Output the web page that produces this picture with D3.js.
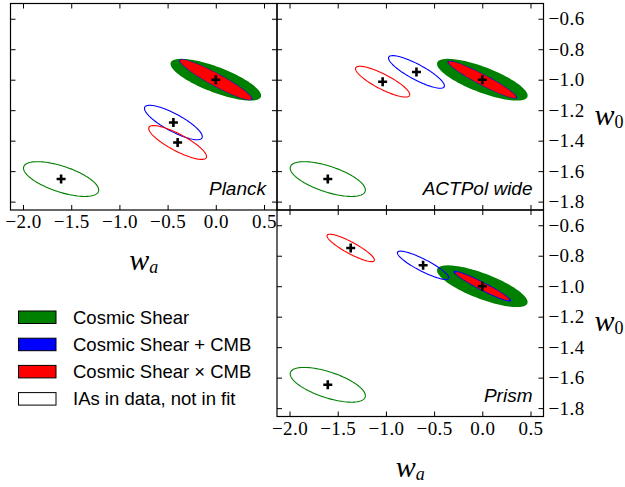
<!DOCTYPE html>
<html>
<head>
<meta charset="utf-8">
<script src="https://cdn.jsdelivr.net/npm/d3@7"></script>
<style>
  body { margin: 0; background: #fff; }
  .tick text { font-family: "Liberation Serif", serif; font-size: 19px; letter-spacing: 0.4px; fill: #000; }
  .tick line { stroke: #000; stroke-width: 1; }
</style>
</head>
<body>
<svg id="chart" width="625" height="487"></svg>
<script>
(function () {
  'use strict';

  // axes
  var waTicks = [-2.0, -1.5, -1.0, -0.5, 0.0, 0.5];
  var w0Ticks = [-1.8, -1.6, -1.4, -1.2, -1.0, -0.8, -0.6];
  var waRange = [-2.13, 0.635];
  var w0Range = [-1.855, -0.5];

  var experiments = ["Planck", "ACTPol wide", "Prism"];
  var probes = ["Cosmic Shear", "Cosmic Shear + CMB", "Cosmic Shear \u00d7 CMB", "IAs in data, not in fit"];
  var probeColors = ["#008000", "#0000ff", "#ff0000", "#ffffff"];

  var fiducial = [0.0, -1.0];

  // filled contours around the fiducial: experiment, probe index, sigma_wa, sigma_w0, rho
  var fitted = [
    ["Planck",      0, 0.470, 0.137, -0.76],
    ["Planck",      1, 0.380, 0.135, -0.935],
    ["Planck",      2, 0.371, 0.132, -0.94],
    ["ACTPol wide", 0, 0.470, 0.137, -0.76],
    ["ACTPol wide", 1, 0.362, 0.124, -0.945],
    ["ACTPol wide", 2, 0.350, 0.120, -0.95],
    ["Prism",       0, 0.470, 0.137, -0.76],
    ["Prism",       1, 0.300, 0.101, -0.95],
    ["Prism",       2, 0.278, 0.092, -0.96]
  ];

  // biased contours (IAs in data, not in fit): experiment, probe index, wa, w0, sigma_wa, sigma_w0, rho
  var biased = [
    ["Planck",      0, -1.605, -1.652, 0.390, 0.114, -0.63],
    ["Planck",      1, -0.440, -1.281, 0.300, 0.113, -0.82],
    ["Planck",      2, -0.396, -1.412, 0.300, 0.111, -0.83],
    ["ACTPol wide", 0, -1.603, -1.652, 0.390, 0.114, -0.63],
    ["ACTPol wide", 1, -0.683, -0.949, 0.290, 0.107, -0.85],
    ["ACTPol wide", 2, -1.034, -1.013, 0.281, 0.101, -0.84],
    ["Prism",       0, -1.603, -1.647, 0.390, 0.114, -0.63],
    ["Prism",       1, -0.614, -0.863, 0.267, 0.093, -0.88],
    ["Prism",       2, -1.365, -0.749, 0.246, 0.090, -0.88]
  ];

  var svg = d3.select("svg#chart");

  var pw = 266.5, ph = 206.5;
  var panels = [
    { name: "Planck",      x: 10.5, y: 3.5,   xLabels: true,  yLabels: false },
    { name: "ACTPol wide", x: 277,  y: 3.5,   xLabels: false, yLabels: true },
    { name: "Prism",       x: 277,  y: 210,   xLabels: true,  yLabels: true }
  ];

  var fmt = d3.format(".1f");

  var ellipsePoints = function (cx, cy, sx, sy, rho) {
    var pts = [];
    var q = Math.sqrt(1 - rho * rho);
    for (var i = 0; i < 120; i++) {
      var t = i / 120 * 2 * Math.PI;
      pts.push([cx + sx * Math.cos(t), cy + sy * (rho * Math.cos(t) + q * Math.sin(t))]);
    }
    return pts;
  };

  var crossPath = "M-4.5,0H4.5M0,-4.5V4.5";

  panels.forEach(function (p, pi) {
    var x = d3.scaleLinear().domain(waRange).range([0, pw]);
    var y = d3.scaleLinear().domain(w0Range).range([ph, 0]);
    var line = d3.line().x(function (d) { return x(d[0]); }).y(function (d) { return y(d[1]); })
      .curve(d3.curveLinearClosed);

    var g = svg.append('g').attr('transform', `translate(${p.x},${p.y})`);

    g.append('clipPath').attr('id', 'clip' + pi)
      .append('rect').attr('width', pw).attr('height', ph);

    var plot = g.append('g').attr('clip-path', `url(#clip${pi})`);

    // filled contours
    fitted.filter(function (d) { return d[0] === p.name; }).forEach(function (d) {
      plot.append('path')
        .attr('d', line(ellipsePoints(fiducial[0], fiducial[1], d[2], d[3], d[4])))
        .attr('fill', probeColors[d[1]])
        .attr('stroke', 'none');
    });

    // biased contours
    biased.filter(function (d) { return d[0] === p.name; }).forEach(function (d) {
      plot.append('path')
        .attr('d', line(ellipsePoints(d[2], d[3], d[4], d[5], d[6])))
        .attr('fill', 'none')
        .attr('stroke', probeColors[d[1]])
        .attr('stroke-width', 1.1);
    });

    // centre markers
    var centres = [fiducial].concat(biased.filter(function (d) { return d[0] === p.name; })
      .map(function (d) { return [d[2], d[3]]; }));
    plot.selectAll('path.cross')
      .data(centres)
      .enter().append('path')
      .attr('class', 'cross')
      .attr('transform', function (d) { return `translate(${x(d[0])},${y(d[1])})`; })
      .attr('d', crossPath)
      .attr('stroke', '#000')
      .attr('stroke-width', 2.6)
      .attr('fill', 'none');

    // axes, ticks pointing inward
    var axB = d3.axisBottom(x).tickValues(waTicks).tickSizeInner(-5).tickSizeOuter(0).tickPadding(5)
      .tickFormat(p.xLabels ? fmt : function () { return ''; });
    var axT = d3.axisTop(x).tickValues(waTicks).tickSizeInner(-5).tickSizeOuter(0).tickFormat('');
    var axL = d3.axisLeft(y).tickValues(w0Ticks).tickSizeInner(-5).tickSizeOuter(0).tickFormat('');
    var axR = d3.axisRight(y).tickValues(w0Ticks).tickSizeInner(-5).tickSizeOuter(0).tickPadding(5)
      .tickFormat(p.yLabels ? fmt : function () { return ''; });

    g.append('g').attr('transform', `translate(0,${ph})`).call(axB);
    g.append('g').call(axT);
    g.append('g').call(axL);
    g.append('g').attr('transform', `translate(${pw},0)`).call(axR);
    g.selectAll('.domain').remove();
    g.selectAll('.tick text').attr('font-family', null).attr('font-size', null);

    g.append('rect')
      .attr('width', pw).attr('height', ph)
      .attr('fill', 'none').attr('stroke', '#000').attr('stroke-width', 1.2);

    // experiment name
    g.append('text')
      .attr('x', pw - 11).attr('y', ph - 15)
      .style('text-anchor', 'end')
      .style('font-family', '"Liberation Sans", Arial, sans-serif')
      .style('font-style', 'italic')
      .style('font-size', '19px')
      .text(p.name);

    // axis titles
    if (p.xLabels) {
      var xt = g.append('text')
        .attr('x', pw / 2).attr('y', ph + 60)
        .style('text-anchor', 'middle')
        .style('font-family', '"Liberation Serif", serif')
        .style('font-size', '30px');
      xt.append('tspan').style('font-style', 'italic').text('w');
      xt.append('tspan').style('font-style', 'italic').style('font-size', '18px').attr('dy', 3).text('a');
    }
    if (p.yLabels) {
      var yt = g.append('text')
        .attr('x', pw + 51).attr('y', ph / 2 + 18)
        .style('font-family', '"Liberation Serif", serif')
        .style('font-size', '30px');
      yt.append('tspan').style('font-style', 'italic').text('w');
      yt.append('tspan').style('font-size', '18px').attr('dy', 3).text('0');
    }
  });

  // legend
  var legend = svg.append('g').attr('transform', 'translate(18,317)');
  var rows = legend.selectAll('g')
    .data(probes)
    .enter().append('g')
    .attr('transform', function (d, i) { return `translate(0,${i * 27.2})`; });

  rows.append('rect')
    .attr('x', 0.5).attr('y', -6)
    .attr('width', 37.5).attr('height', 12.5)
    .attr('fill', function (d, i) { return probeColors[i]; })
    .attr('stroke', '#000').attr('stroke-width', 1);

  rows.append('text')
    .attr('x', 55).attr('y', 6.5)
    .style('font-family', '"Liberation Sans", Arial, sans-serif')
    .style('font-size', '18.5px')
    .text(function (d) { return d; });
}());
</script>
</body>
</html>
